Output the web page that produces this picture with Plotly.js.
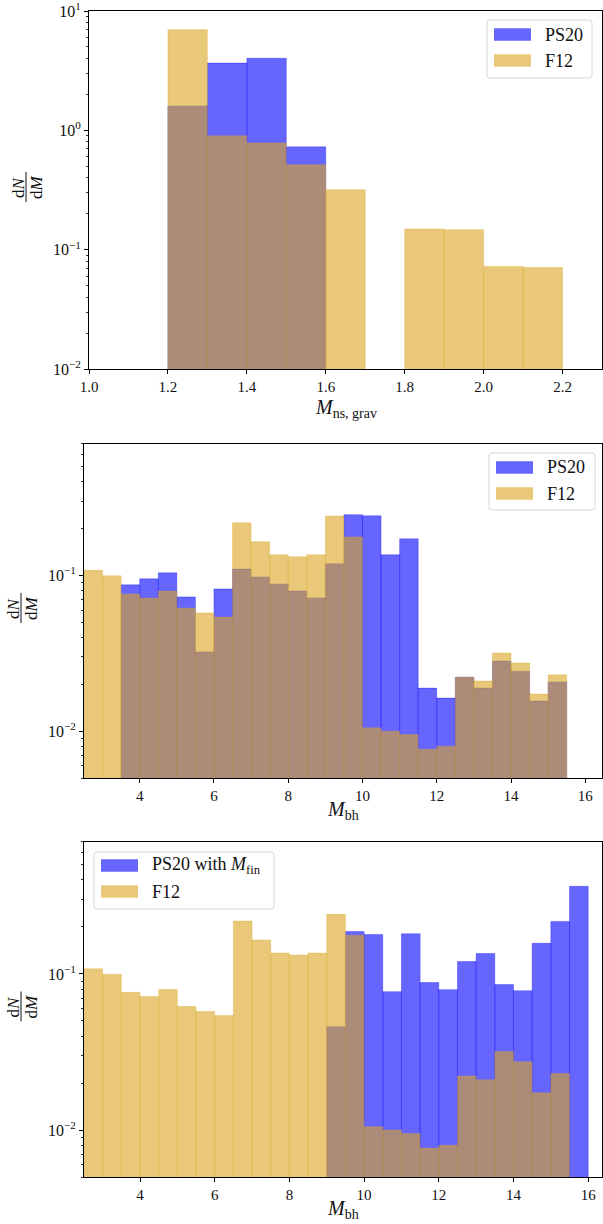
<!DOCTYPE html>
<html><head><meta charset="utf-8">
<script src="https://cdn.plot.ly/plotly-3.0.1.min.js"></script>
<style>html,body{margin:0;padding:0;background:#fff}#chart{width:603px;height:1224px}</style>
</head><body><div id="chart"></div>
<script>
// ---------------- data ----------------
const nsBinLeft = [1.2, 1.3, 1.4, 1.5, 1.6, 1.7, 1.8, 1.9, 2.0, 2.1];
const nsBinWidth = 0.1;
const ps20Ns = [1.60, 3.66, 4.02, 0.727, null, null, null, null, null, null];
const f12Ns  = [6.98, 0.90, 0.785, 0.515, 0.318, null, 0.149, 0.147, 0.0724, 0.0710];

const bhBinLeft = [2.5, 3.0, 3.5, 4.0, 4.5, 5.0, 5.5, 6.0, 6.5, 7.0, 7.5, 8.0, 8.5, 9.0,
                   9.5, 10.0, 10.5, 11.0, 11.5, 12.0, 12.5, 13.0, 13.5, 14.0, 14.5, 15.0, 15.5];
const bhBinWidth = 0.5;
const ps20Bh = [null, null, 0.0871, 0.0952, 0.104, 0.0729, 0.0323, 0.082, 0.110, 0.098, 0.0883, 0.0796, 0.0718, 0.119,
                0.246, 0.242, 0.136, 0.172, 0.0189, 0.0163, 0.0222, 0.0189, 0.0282, 0.0243, 0.0156, 0.0207, null];
const f12Bh  = [0.108, 0.0995, 0.0762, 0.0716, 0.0795, 0.0618, 0.0575, 0.0541, 0.218, 0.165, 0.136, 0.132, 0.136, 0.241,
                0.177, 0.0105, 0.0100, 0.0095, 0.00766, 0.0080, 0.0222, 0.0210, 0.0318, 0.0274, 0.0173, 0.0230, null];
const ps20BhFin = [null, null, null, null, null, null, null, null, null, null, null, null, null, 0.0459,
                   0.187, 0.179, 0.0770, 0.181, 0.088, 0.0793, 0.120, 0.135, 0.0854, 0.0781, 0.157, 0.217, 0.364];

const nsTickVals = [1.0, 1.2, 1.4, 1.6, 1.8, 2.0, 2.2];
const nsTickText = ["1.0", "1.2", "1.4", "1.6", "1.8", "2.0", "2.2"];
const bhTickVals = [4, 6, 8, 10, 12, 14, 16];
const bhTickText = ["4", "6", "8", "10", "12", "14", "16"];
const nsLogTickVals = [0.01, 0.1, 1, 10];
const nsLogTickText = ["10<sup>−2</sup>", "10<sup>−1</sup>", "10<sup>0</sup>", "10<sup>1</sup>"];
const bhLogTickVals = [0.01, 0.1];
const bhLogTickText = ["10<sup>−2</sup>", "10<sup>−1</sup>"];

const legend1 = ["PS20", "F12"];
const legend3 = ["PS20 with <i>M</i><sub>fin</sub>", "F12"];
const xLabels = ["<i>M</i><sub>ns, grav</sub>", "<i>M</i><sub>bh</sub>", "<i>M</i><sub>bh</sub>"];

// ---------------- style ----------------
const W = 603, H = 1224;
const FONT = "'Liberation Serif', 'DejaVu Serif', serif";
const BLUE = "rgba(0,0,255,0.6)";
const GOLD = "rgba(218,165,32,0.6)";
const TXT = '#111';
const px = x => x / W;
const py = y => 1 - y / H;

function minorLog(lo, hi) {
  const v = [];
  for (let e = lo; e < hi; e++) for (let m = 2; m <= 9; m++) v.push(m * Math.pow(10, e));
  return v;
}

function xAxis(domain, range, tv, tt, anchor) {
  return {domain, range, tickmode: 'array', tickvals: tv, ticktext: tt, anchor,
    showgrid: false, zeroline: false, showline: true, linecolor: '#000', linewidth: 1, mirror: true,
    ticks: 'outside', ticklen: 4, tickwidth: 1, tickcolor: '#000', ticklabeloverflow: 'allow',
    tickfont: {family: FONT, size: 15, color: TXT}, fixedrange: true};
}
function yAxis(domain, range, anchor, tv, tt, minorVals) {
  return {domain, type: 'log', range, tickmode: 'array', tickvals: tv, ticktext: tt, anchor,
    showgrid: false, zeroline: false, showline: true, linecolor: '#000', linewidth: 1, mirror: true,
    ticks: 'outside', ticklen: 4, tickwidth: 1, tickcolor: '#000', ticklabeloverflow: 'allow',
    minor: {tickmode: 'array', tickvals: minorVals, ticks: 'outside', ticklen: 2, tickwidth: 0.8, tickcolor: '#000', showgrid: false},
    tickfont: {family: FONT, size: 16, color: TXT}, fixedrange: true};
}
function bars(xs, ys, w, color, xa, ya) {
  const x = [], y = [];
  xs.forEach((v, i) => { if (ys[i] !== null) { x.push(v); y.push(ys[i]); } });
  return {type: 'bar', x, y, width: w, offset: 0, marker: {color, line: {width: 0.5, color}},
    xaxis: xa, yaxis: ya, showlegend: false, hoverinfo: 'skip'};
}

const data = [
  bars(nsBinLeft, ps20Ns, nsBinWidth, BLUE, 'x', 'y'),
  bars(nsBinLeft, f12Ns, nsBinWidth, GOLD, 'x', 'y'),
  bars(bhBinLeft, ps20Bh, bhBinWidth, BLUE, 'x2', 'y2'),
  bars(bhBinLeft, f12Bh, bhBinWidth, GOLD, 'x2', 'y2'),
  bars(bhBinLeft, ps20BhFin, bhBinWidth, BLUE, 'x3', 'y3'),
  bars(bhBinLeft, f12Bh, bhBinWidth, GOLD, 'x3', 'y3'),
];

// panel geometry (pixels)
const P = [
  {l: 89, r: 602, t: 11, b: 369},
  {l: 84, r: 602, t: 444, b: 778},
  {l: 84, r: 602, t: 842, b: 1177},
];

const shapes = [], annotations = [];

function roundRect(x0, y0, x1, y1, r) {
  const X = v => px(v).toFixed(5), Y = v => py(v).toFixed(5);
  return `M${X(x0 + r)},${Y(y0)} L${X(x1 - r)},${Y(y0)} Q${X(x1)},${Y(y0)} ${X(x1)},${Y(y0 + r)} ` +
         `L${X(x1)},${Y(y1 - r)} Q${X(x1)},${Y(y1)} ${X(x1 - r)},${Y(y1)} L${X(x0 + r)},${Y(y1)} ` +
         `Q${X(x0)},${Y(y1)} ${X(x0)},${Y(y1 - r)} L${X(x0)},${Y(y0 + r)} Q${X(x0)},${Y(y0)} ${X(x0 + r)},${Y(y0)} Z`;
}

function legend(box, sw, textX, rows, labels) {
  shapes.push({type: 'path', xref: 'paper', yref: 'paper', path: roundRect(box[0], box[1], box[2], box[3], 3),
    fillcolor: 'rgba(255,255,255,0.8)', line: {color: '#d6d6d6', width: 1}});
  const cols = [BLUE, GOLD];
  rows.forEach((cy, i) => {
    shapes.push({type: 'rect', xref: 'paper', yref: 'paper', x0: px(sw[0]), x1: px(sw[1]),
      y0: py(cy + 6.3), y1: py(cy - 6.3), fillcolor: cols[i], line: {width: 0}});
    annotations.push({xref: 'paper', yref: 'paper', x: px(textX), y: py(cy), xanchor: 'left', yanchor: 'middle',
      text: labels[i], showarrow: false, font: {family: FONT, size: 18, color: TXT}});
  });
}
legend([487, 20, 592, 78], [494, 531], 543, [34.5, 60.5], legend1);
legend([489, 453, 595, 510], [496, 533], 545, [467.5, 493.5], legend1);
legend([94, 852, 274, 909], [101, 138], 150, [865.5, 891.5], legend3);

// axis labels
const xLabelTop = [395, 797, 1196];
P.forEach((p, i) => {
  annotations.push({xref: 'paper', yref: 'paper', x: px((p.l + p.r) / 2), y: py(xLabelTop[i]),
    xanchor: 'center', yanchor: 'top', text: xLabels[i], showarrow: false, borderpad: 0,
    font: {family: FONT, size: 20, color: TXT}});
  const cy = (p.t + p.b) / 2 - 3;
  const bx = p.l - 63;
  shapes.push({type: 'line', xref: 'paper', yref: 'paper', x0: px(bx), x1: px(bx),
    y0: py(cy - 15), y1: py(cy + 15), line: {color: TXT, width: 1}});
  annotations.push({xref: 'paper', yref: 'paper', x: px(bx - 8), y: py(cy), xanchor: 'center', yanchor: 'middle',
    textangle: -90, text: 'd<i>N</i>', showarrow: false, font: {family: FONT, size: 17, color: TXT}});
  annotations.push({xref: 'paper', yref: 'paper', x: px(bx + 10), y: py(cy), xanchor: 'center', yanchor: 'middle',
    textangle: -90, text: 'd<i>M</i>', showarrow: false, font: {family: FONT, size: 17, color: TXT}});
});

const dom = p => ({x: [px(p.l), px(p.r)], y: [py(p.b), py(p.t)]});
const d1 = dom(P[0]), d2 = dom(P[1]), d3 = dom(P[2]);
const bhRange2 = [2.5, 16.45], bhRange3 = [2.5, 16.37];
const yr2 = [Math.log10(0.005), -0.155];

const layout = {
  width: W, height: H, margin: {l: 0, r: 0, t: 0, b: 0},
  paper_bgcolor: '#fff', plot_bgcolor: '#fff',
  barmode: 'overlay', showlegend: false,
  font: {family: FONT, color: TXT, size: 16},
  xaxis: xAxis(d1.x, [1.0, 2.3], nsTickVals, nsTickText, 'y'),
  yaxis: yAxis(d1.y, [-2, 1], 'x', nsLogTickVals, nsLogTickText, minorLog(-2, 1)),
  xaxis2: xAxis(d2.x, bhRange2, bhTickVals, bhTickText, 'y2'),
  yaxis2: yAxis(d2.y, yr2, 'x2', bhLogTickVals, bhLogTickText, minorLog(-3, 0)),
  xaxis3: xAxis(d3.x, bhRange3, bhTickVals, bhTickText, 'y3'),
  yaxis3: yAxis(d3.y, yr2, 'x3', bhLogTickVals, bhLogTickText, minorLog(-3, 0)),
  shapes, annotations,
};

Plotly.newPlot('chart', data, layout, {staticPlot: true, displayModeBar: false});
</script>
</body></html>
